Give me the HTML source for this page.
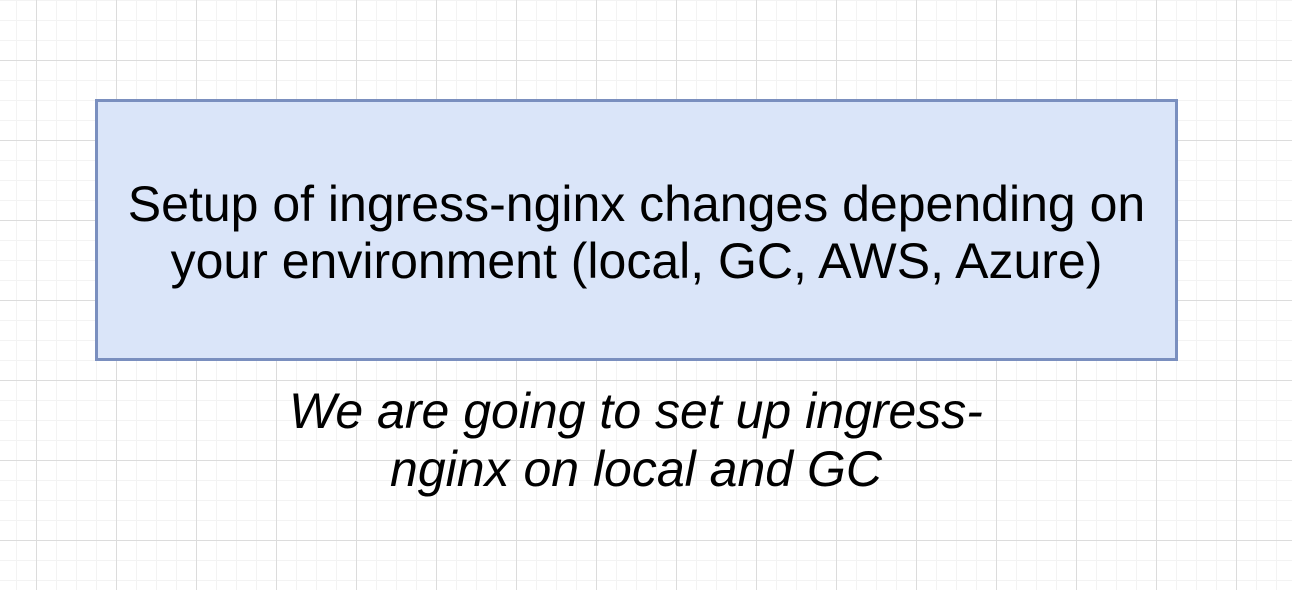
<!DOCTYPE html>
<html><head><style>
html,body{margin:0;padding:0;}
body{width:1292px;height:590px;overflow:hidden;position:relative;background:#fff;
background-image:
linear-gradient(to right,#dcdcdc 1px,transparent 1px),
linear-gradient(to bottom,#dcdcdc 1px,transparent 1px),
linear-gradient(to right,#f3f3f3 1px,transparent 1px),
linear-gradient(to bottom,#f3f3f3 1px,transparent 1px);
background-size:80px 80px,80px 80px,20px 20px,20px 20px;
background-position:36px 60px,36px 60px,16px 0px,16px 0px;
font-family:"Liberation Sans",sans-serif;}
.box{position:absolute;left:95px;top:99px;width:1077px;height:256px;border:3px solid #7a8fbf;background:#dae5f9;
display:flex;align-items:center;justify-content:center;text-align:center;font-size:50px;line-height:57px;color:#000;padding-top:6px;box-sizing:content-box;height:250px;}
.note{position:absolute;left:136px;top:382px;width:1000px;text-align:center;font-style:italic;font-size:50px;line-height:58px;}
</style></head><body>
<div class="box">Setup of ingress-nginx changes depending on<br>your environment (local, GC, AWS, Azure)</div>
<div class="note">We are going to set up ingress-<br>nginx on local and GC</div>
</body></html>
